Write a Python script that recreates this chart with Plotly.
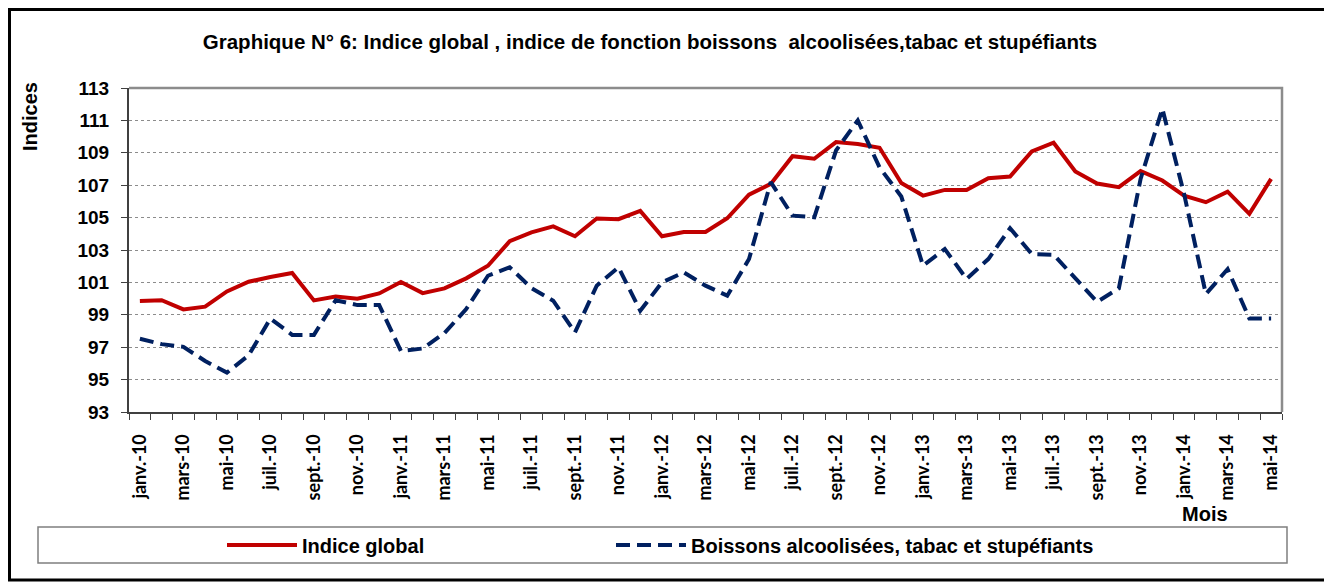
import plotly.graph_objects as go

months = ["janv.-10", "févr.-10", "mars-10", "avr.-10", "mai-10", "juin-10", "juil.-10", "août-10",
          "sept.-10", "oct.-10", "nov.-10", "déc.-10",
          "janv.-11", "févr.-11", "mars-11", "avr.-11", "mai-11", "juin-11", "juil.-11", "août-11",
          "sept.-11", "oct.-11", "nov.-11", "déc.-11",
          "janv.-12", "févr.-12", "mars-12", "avr.-12", "mai-12", "juin-12", "juil.-12", "août-12",
          "sept.-12", "oct.-12", "nov.-12", "déc.-12",
          "janv.-13", "févr.-13", "mars-13", "avr.-13", "mai-13", "juin-13", "juil.-13", "août-13",
          "sept.-13", "oct.-13", "nov.-13", "déc.-13",
          "janv.-14", "févr.-14", "mars-14", "avr.-14", "mai-14"]

indice_global = [99.85, 99.9, 99.33, 99.5, 100.44, 101.04, 101.33, 101.58, 99.89, 100.13, 99.99, 100.32,
                 101.02, 100.34, 100.63, 101.25, 102.03, 103.54, 104.09, 104.46, 103.85, 104.94, 104.9, 105.41,
                 103.85, 104.11, 104.11, 104.96, 106.42, 107.08, 108.79, 108.63, 109.66, 109.54, 109.31, 107.14,
                 106.36, 106.71, 106.71, 107.43, 107.54, 109.08, 109.62, 107.85, 107.1, 106.88, 107.87, 107.29,
                 106.36, 105.95, 106.6, 105.23, 107.39]

boissons = [97.52, 97.19, 97.02, 96.15, 95.43, 96.5, 98.77, 97.76, 97.76, 99.9, 99.6, 99.6,
            96.77, 96.92, 97.87, 99.35, 101.41, 101.93, 100.65, 99.87, 97.91, 100.8, 101.93, 99.25,
            101.0, 101.62, 100.8, 100.18, 102.44, 107.19, 105.12, 105.02, 109.14, 111.0, 108.1, 106.3,
            102.03, 103.06, 101.21, 102.44, 104.34, 102.75, 102.71, 101.21, 99.8, 100.63, 107.39, 111.72,
            106.46, 100.28, 101.82, 98.77, 98.77]

y_ticks = list(range(93, 114, 2))

x_idx = list(range(len(months)))
label_idx = x_idx[::2]
label_txt = [months[i] for i in label_idx]

fig = go.Figure()
fig.add_trace(go.Scatter(x=x_idx, y=indice_global, mode="lines", name="Indice global",
                         line=dict(color="#C00000", width=4), legend="legend"))
fig.add_trace(go.Scatter(x=x_idx, y=boissons, mode="lines",
                         name="Boissons alcoolisées, tabac et stupéfiants",
                         line=dict(color="#002060", width=4, dash="14px,7px"), legend="legend2"))

OFF = 8                      # page body margin
W, H = 1332 - OFF, 582 - OFF
L, R, T, B = 129 - OFF, 1282 - OFF, 88 - OFF, 412 - OFF
pw, ph = R - L, B - T

def px(x):                   # reference screen x -> paper
    return (x - OFF - L) / pw

def py(y):                   # reference screen y -> paper
    return (B - (y - OFF)) / ph

FONT = "Liberation Sans, Arial, sans-serif"
leg_common = dict(orientation="h", xanchor="left", yanchor="middle", y=py(545),
                  bgcolor="rgba(0,0,0,0)", borderwidth=0, itemwidth=70,
                  font=dict(size=20, family=FONT, weight="bold"))

fig.update_layout(
    width=W, height=H,
    margin=dict(l=L, r=W - R, t=T, b=H - B),
    paper_bgcolor="white", plot_bgcolor="white",
    font=dict(family=FONT, color="black"),
    title=dict(text="<b>Graphique N° 6: Indice global , indice de fonction boissons  alcoolisées,tabac et stupéfiants</b>",
               x=px(650), xref="paper", xanchor="center", y=1 - (42 - OFF) / H, yanchor="middle",
               font=dict(size=20.5, family=FONT)),
    showlegend=True,
    legend=dict(x=px(222), **leg_common),
    legend2=dict(x=px(611), **leg_common),
    xaxis=dict(range=[-0.5, len(months) - 0.5], tickmode="array", tickvals=label_idx, ticktext=label_txt,
               tickangle=-90, ticks="", showgrid=False, zeroline=False,
               showline=True, linecolor="#404040", linewidth=2,
               tickfont=dict(family="Lato, sans-serif", size=18, weight="bold"),
               ticklabelstandoff=13,
               minor=dict(tickmode="linear", tick0=-0.5, dtick=1, ticks="outside", ticklen=6,
                          tickcolor="#404040", tickwidth=1, showgrid=False)),
    yaxis=dict(range=[93, 113], tickmode="array", tickvals=y_ticks, ticks="outside", ticklen=6,
               tickcolor="#404040", showline=True, linecolor="#404040", linewidth=2,
               showgrid=True, gridcolor="#8c8c8c", gridwidth=1, griddash="dot", zeroline=False,
               ticklabelstandoff=8,
               tickfont=dict(size=19, family=FONT, weight="bold")),
    annotations=[
        dict(text="<b>Indices</b>", x=px(30), y=py(117), xref="paper", yref="paper", textangle=-90,
             showarrow=False, xanchor="center", yanchor="middle",
             font=dict(size=20, family=FONT)),
        dict(text="<b>Mois</b>", x=px(1205), y=py(514), xref="paper", yref="paper",
             showarrow=False, xanchor="center", yanchor="middle",
             font=dict(size=20, family=FONT)),
    ],
    shapes=[
        dict(type="path", xref="paper", yref="paper",
             path="M 0 1 L 1 1 L 1 0", line=dict(color="#8c8c8c", width=2.5), layer="above"),
        dict(type="rect", xref="paper", yref="paper", x0=px(38), x1=px(1287), y0=py(527), y1=py(563),
             line=dict(color="#7f7f7f", width=1.5)),
        dict(type="rect", xref="paper", yref="paper", x0=px(OFF + 1.5), x1=px(1327), y0=py(OFF + 1.5), y1=py(580),
             line=dict(color="black", width=3)),
    ],
)

fig.write_html("out.html")
